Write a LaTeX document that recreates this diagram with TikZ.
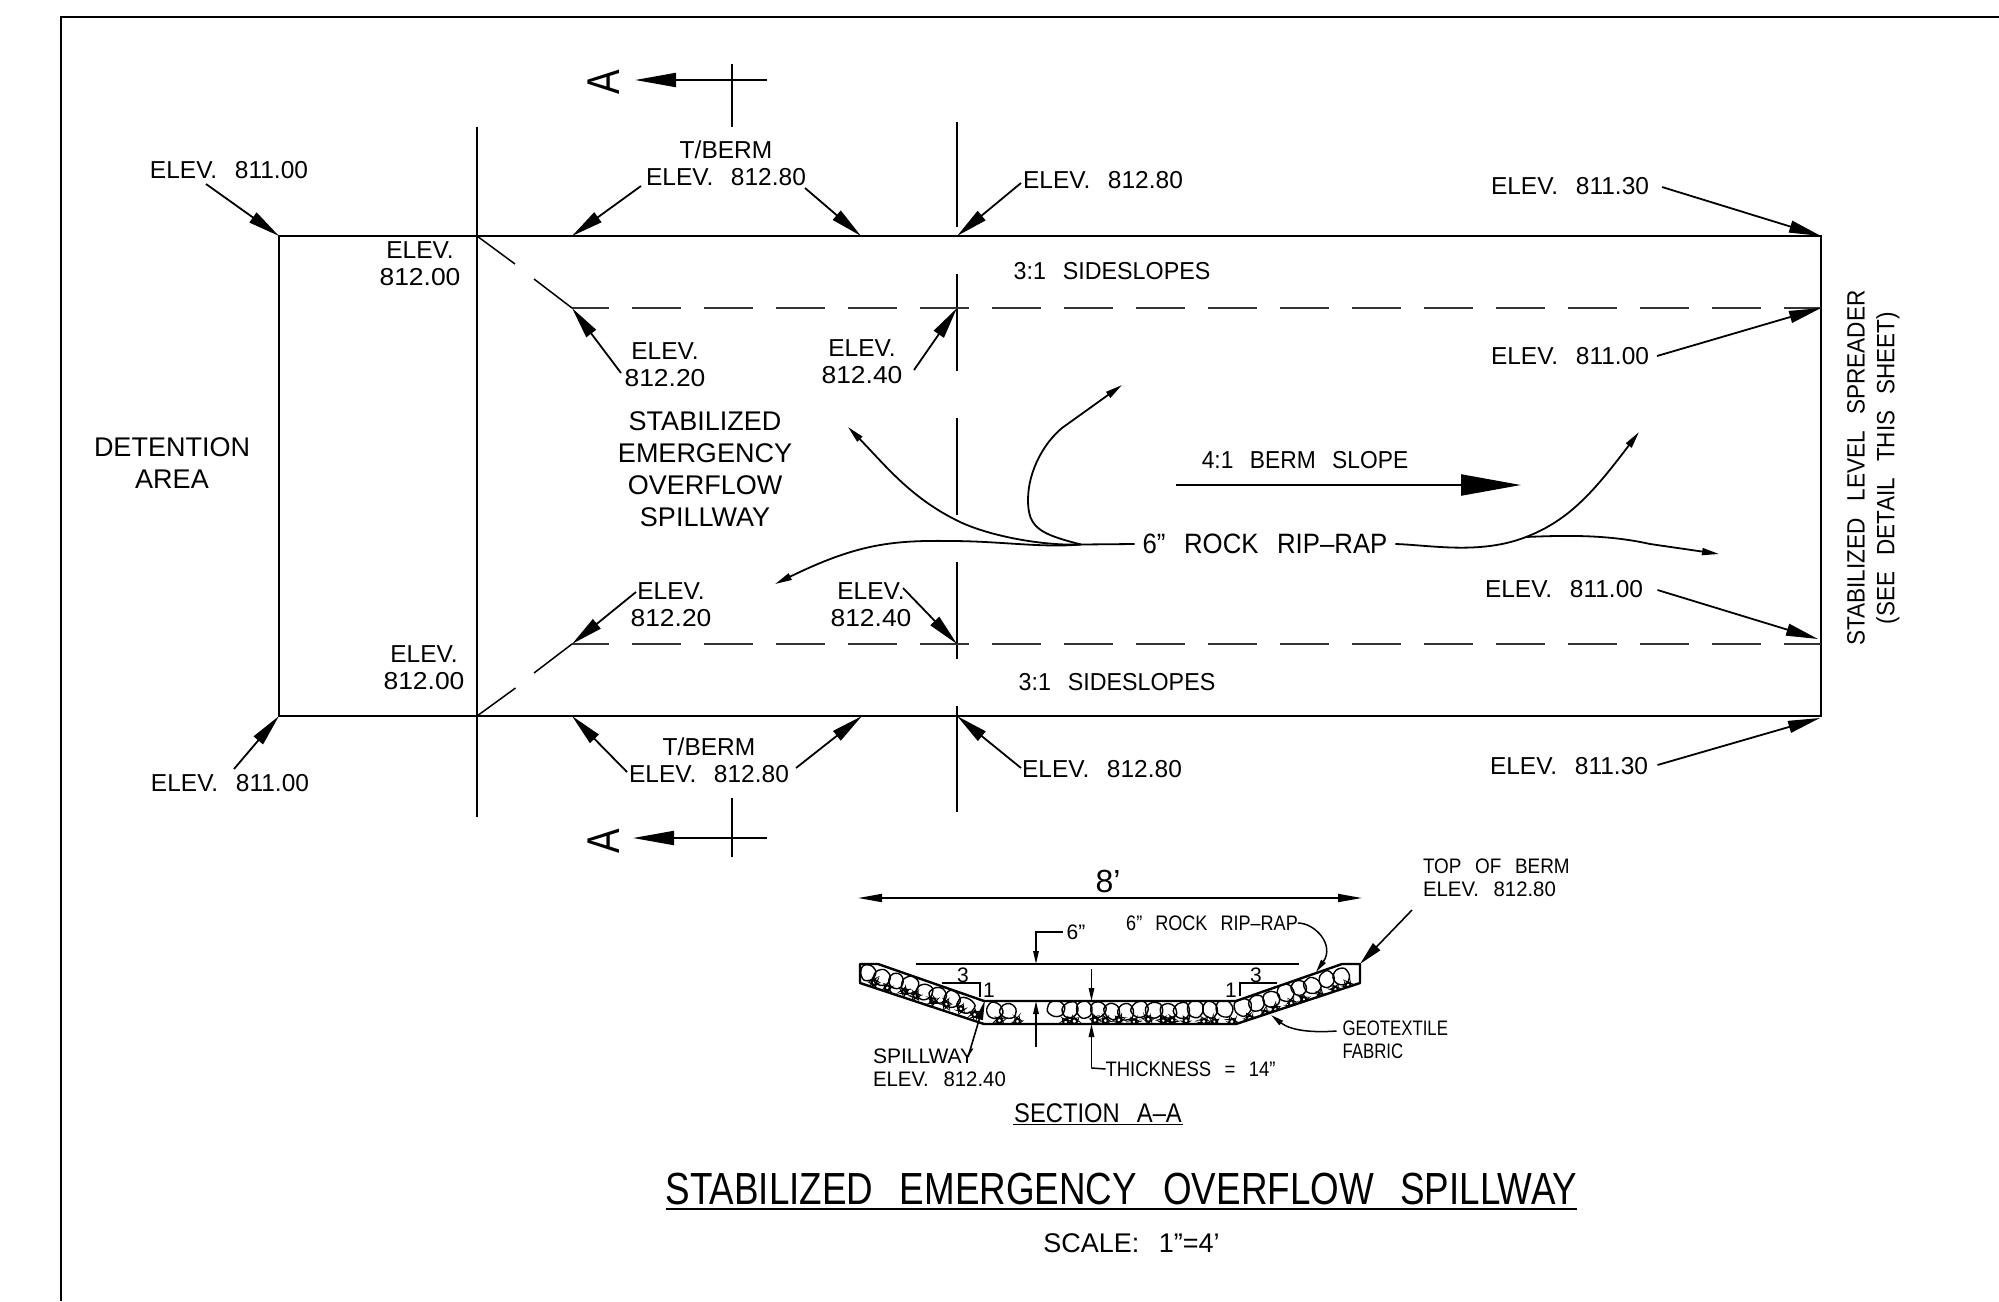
\documentclass[tikz,border=0pt]{standalone}
\usepackage{fontspec}
\usepackage{graphicx}
\setmainfont[WordSpace=2.6]{Liberation Sans}
\usetikzlibrary{arrows.meta}
\newcommand\fs[2]{\fontsize{#1}{#2}\selectfont}
\newcommand\nar[2]{\scalebox{#1}[1]{#2}}
\newcommand\dig[1]{\nar{1.08}{#1}}
\tikzset{
  lbl/.style={inner sep=0pt,outer sep=0pt,align=center,text=black},
  tA/.style={lbl,font=\fs{24.5}{27}},
  tB/.style={lbl,font=\fs{27}{32}},
  tC/.style={lbl,font=\fs{21}{23},align=left},
  wall/.style={line width=2.4pt,black},
  guide/.style={line width=2pt,black},
  slim/.style={line width=1.5pt,black},
  dashline/.style={line width=1.8pt,black!80,dash pattern=on 49pt off 23pt,dash phase=12pt},
  leader/.style={line width=1.8pt,black,-{Triangle[length=32pt,width=12pt]}},
  flow/.style={line width=1.8pt,black,-{Triangle[length=17pt,width=7pt]}},
  tiny/.style={line width=1.5pt,black,-{Triangle[length=13pt,width=5.5pt]}},
  rockline/.style={line width=1.4pt,black,rounded corners=3pt},
}
% leader with a named free end
\newcommand\ldr[3]{\coordinate (#1) at (#2); \draw[leader] (#1) -- (#3);}
\newcommand\rockat[3]{%
  \pgfmathsetmacro\ang{60*rnd}%
  \pgfmathsetmacro\ra{#3*(.85+.3*rnd)}\pgfmathsetmacro\rb{#3*(.85+.3*rnd)}%
  \pgfmathsetmacro\rc{#3*(.85+.3*rnd)}\pgfmathsetmacro\rd{#3*(.85+.3*rnd)}%
  \pgfmathsetmacro\re{#3*(.85+.3*rnd)}\pgfmathsetmacro\rf{#3*(.85+.3*rnd)}%
  \draw[rockline] ({#1+\ra*cos(\ang)},{#2+\ra*sin(\ang)})
    -- ({#1+\rb*cos(\ang+60)},{#2+\rb*sin(\ang+60)})
    -- ({#1+\rc*cos(\ang+120)},{#2+\rc*sin(\ang+120)})
    -- ({#1+\rd*cos(\ang+180)},{#2+\rd*sin(\ang+180)})
    -- ({#1+\re*cos(\ang+240)},{#2+\re*sin(\ang+240)})
    -- ({#1+\rf*cos(\ang+300)},{#2+\rf*sin(\ang+300)}) -- cycle;}
\newcommand\rockpair[2]{%
  \pgfmathsetmacro\jy{#2-3+3*rnd}%
  \rockat{#1}{\jy}{9.2}%
  \pgfmathsetmacro\jx{#1+4+7*rnd}\pgfmathsetmacro\ky{#2+7+3*rnd}%
  \rockat{\jx}{\ky}{3}}
\begin{document}
\begin{tikzpicture}[x=1pt,y=-1pt]
\useasboundingbox (0,0) rectangle (1999,1301);
\fill[white] (0,0) rectangle (1999,1301);

% sheet border
\coordinate (sheetA) at (61,1301);
\coordinate (sheetB) at (61,17);
\coordinate (sheetC) at (1999,17);
\draw[guide] (sheetA) -- (sheetB) -- (sheetC);

% plan corners
\coordinate (nw) at (279,236);
\coordinate (sw) at (279,716);
\coordinate (na) at (477,236);
\coordinate (sa) at (477,716);
\coordinate (ne) at (1821,236);
\coordinate (se) at (1821,716);
\coordinate (up) at (572,308);
\coordinate (lo) at (572,644);
\coordinate (upr) at (1821,308);
\coordinate (lor) at (1821,644);
\coordinate (nb) at (572,236);
\coordinate (sb) at (572,716);
\coordinate (nc) at (861,236);
\coordinate (sc) at (862,716);
\coordinate (nd) at (957,236);
\coordinate (sd) at (957,716);
\coordinate (ud) at (957,308);
\coordinate (ld) at (957,644);

\draw[wall] (nw) -- (ne) -- (se) -- (sw) -- cycle;
% vertical section lines
\coordinate (vaT) at (477,127); \coordinate (vaB) at (477,817);
\draw[guide] (vaT) -- (vaB);
\coordinate (v1) at (957,122); \coordinate (v2) at (957,227);
\coordinate (v3) at (957,274); \coordinate (v4) at (957,371);
\coordinate (v5) at (957,418); \coordinate (v6) at (957,515);
\coordinate (v7) at (957,562); \coordinate (v8) at (957,659);
\coordinate (v9) at (957,706); \coordinate (v10) at (957,812);
\draw[guide] (v1) -- (v2) (v3) -- (v4) (v5) -- (v6) (v7) -- (v8) (v9) -- (v10);
% slope breaks
\draw[dashline] (up) -- (upr);
\draw[dashline] (lo) -- (lor);
\coordinate (da) at (515,264); \coordinate (db) at (534,279);
\coordinate (dc) at (515.5,688); \coordinate (dd) at (534,673);
\draw[slim] (na) -- (da) (db) -- (up) (sa) -- (dc) (dd) -- (lo);

% section marks
\coordinate (ma) at (732,64); \coordinate (mb) at (732,127);
\coordinate (mc) at (767,80); \coordinate (md) at (635,80);
\draw[guide] (ma) -- (mb);
\draw[guide,-{Triangle[length=41pt,width=14pt]}] (mc) -- (md);
\coordinate (me) at (732,798); \coordinate (mf) at (732,857);
\coordinate (mg) at (767,838); \coordinate (mh) at (633,838);
\draw[guide] (me) -- (mf);
\draw[guide,-{Triangle[length=41pt,width=14pt]}] (mg) -- (mh);
\node[lbl,font=\fs{46}{46},rotate=90] (secT) at (604,82) {\nar{.8}{A}};
\node[lbl,font=\fs{46}{46},rotate=90] (secB) at (604,841) {\nar{.8}{A}};

% labels, top
\node[tA] (e1) at (229,170) {ELEV. 811.00};
\ldr{e1s}{206,184}{nw}
\node[tA] (e2) at (420,264) {ELEV.\\\dig{812.00}};
\node[tA] (e3) at (726,163) {T/BERM\\ELEV. 812.80};
\ldr{e3a}{641,186}{nb}
\ldr{e3b}{805,188}{nc}
\node[tA] (e4) at (1103,180) {ELEV. 812.80};
\ldr{e4s}{1021,183}{nd}
\node[tA] (e5) at (1570,186) {ELEV. 811.30};
\ldr{e5s}{1662,187}{ne}
\node[tA] (e6) at (665,365) {ELEV.\\\dig{812.20}};
\ldr{e6s}{621,373}{up}
\node[tA] (e7) at (862,362) {ELEV.\\\dig{812.40}};
\ldr{e7s}{914,370}{ud}
\node[tA] (e8) at (1570,356) {ELEV. 811.00};
\ldr{e8s}{1657,356}{upr}
\node[tA] (s1) at (1112,271) {\nar{.95}{3:1 SIDESLOPES}};

% labels, bottom
\node[tA] (e9) at (671,605) {ELEV.\\\dig{812.20}};
\ldr{e9s}{636,592}{lo}
\node[tA] (e10) at (871,605) {ELEV.\\\dig{812.40}};
\ldr{e10s}{903,588}{ld}
\node[tA] (e11) at (424,668) {ELEV.\\\dig{812.00}};
\node[tA] (e12) at (230,783) {ELEV. 811.00};
\ldr{e12s}{234,769}{sw}
\node[tA] (e13) at (709,760) {T/BERM\\ELEV. 812.80};
\ldr{e13a}{627,772}{sb}
\ldr{e13b}{796,768}{sc}
\node[tA] (e14) at (1102,769) {ELEV. 812.80};
\ldr{e14s}{1021,768}{sd}
\node[tA] (e15) at (1564,589) {ELEV. 811.00};
\coordinate (lort) at (1818,639);
\ldr{e15s}{1657.5,590}{lort}
\node[tA] (e16) at (1569,766) {ELEV. 811.30};
\coordinate (sert) at (1820,718);
\ldr{e16s}{1657.5,765}{sert}
\node[tA] (s2) at (1117,682) {\nar{.95}{3:1 SIDESLOPES}};

\node[tB] (det) at (172,463) {DETENTION\\AREA};
\node[tB] (spw) at (705,469) {STABILIZED\\EMERGENCY\\OVERFLOW\\SPILLWAY};
\node[lbl,font=\fs{25}{27},rotate=90] (lvl1) at (1856,468) {\nar{.905}{STABILIZED LEVEL SPREADER}};
\node[lbl,font=\fs{25}{27},rotate=90] (lvl2) at (1888,468) {\nar{.90}{(SEE DETAIL THIS SHEET)}};

% berm slope
\node[tA] (berm) at (1305,460) {\nar{.93}{4:1 BERM SLOPE}};
\coordinate (bs) at (1176,485); \coordinate (be) at (1521,485);
\draw[line width=2.2pt,-{Triangle[length=60pt,width=21pt]}] (bs) -- (be);

% rip-rap callout
\node[lbl,font=\fs{28}{32}] (rock) at (1265,544) {\nar{.92}{6” ROCK RIP–RAP}};
\coordinate (fj) at (1081,544.5);
\coordinate (fa) at (775,584);
\coordinate (fb) at (848,427);
\coordinate (fc) at (1122,385);
\coordinate (fd) at (1526,537);
\coordinate (fe) at (1639,432);
\coordinate (ff) at (1719,554);
\draw[flow] ([xshift=-8pt]rock.west) -- (fj) .. controls (1040,548) and (1000,541) .. (950,541)
  .. controls (890,540) and (855,545) .. (fa);
\draw[flow] (fj) .. controls (1040,546) and (985,535) .. (956,520)
  .. controls (910,497) and (885,465) .. (fb);
\draw[flow] (fj) .. controls (1040,534) and (1028,528) .. (1028,500)
  .. controls (1028,470) and (1045,442) .. (1062,428) -- (fc);
\draw[flow] ([xshift=8pt]rock.east) .. controls (1430,545) and (1480,555) .. (fd)
  .. controls (1570,520) and (1595,490) .. (fe);
\draw[flow] (fd) .. controls (1570,535) and (1610,535) .. (1650,544) -- (ff);

% ---- section A-A ----
\coordinate (dimL) at (858,898); \coordinate (dimR) at (1362,898);
\draw[line width=1.8pt,{Triangle[length=24pt,width=8pt]}-{Triangle[length=24pt,width=8pt]}] (dimL) -- (dimR);
\node[lbl,font=\fs{32}{34}] (eight) at (1108,881) {8’};

\coordinate (c1) at (860,964); \coordinate (c2) at (878,964);
\coordinate (c3) at (984,1001); \coordinate (c4) at (1236,1001);
\coordinate (c5) at (1342,964); \coordinate (c6) at (1360,964);
\coordinate (c7) at (1360,983); \coordinate (c8) at (1236,1024);
\coordinate (c9) at (984,1024); \coordinate (c10) at (860,983);

\begin{scope}
\clip (c1) -- (c2) -- (c3) -- (c4) -- (c5) -- (c6) -- (c7) -- (c8) -- (c9) -- (c10) -- cycle;
\pgfmathsetseed{11}
\foreach \x in {868,882,...,978} {
  \pgfmathsetmacro\yy{973.5+(\x-868)*0.335}
  \rockpair{\x}{\yy}
}
\foreach \x in {994,1008,1056,1070,...,1230} {
  \rockpair{\x}{1012}
}
\foreach \x in {1243,1257,...,1354} {
  \pgfmathsetmacro\yy{1012-(\x-1236)*0.335}
  \rockpair{\x}{\yy}
}
\end{scope}
\draw[wall,line join=round] (c1) -- (c2) -- (c3) -- (c4) -- (c5) -- (c6) -- (c7) -- (c8) -- (c9) -- (c10) -- cycle;

% top-of-rock reference line
\coordinate (tl) at (916,964); \coordinate (tr) at (1299,964);
\draw[guide] (tl) -- (tr);
\node[tC] (six) at (1076,932) {6”};
\coordinate (sixa) at (1036,964); \coordinate (sixb) at (1036,1001); \coordinate (sixc) at (1036,1047);
\draw[tiny] ([xshift=-4pt]six.west) -- (sixa |- six.west) -- (sixa);
\draw[tiny] (sixc) -- (sixb);
% slopes
\coordinate (hLa) at (942,983); \coordinate (hLb) at (980,983); \coordinate (hLc) at (980,997);
\draw[slim] (hLa) -- (hLb) -- (hLc);
\coordinate (hRa) at (1277,983); \coordinate (hRb) at (1240,983); \coordinate (hRc) at (1240,996);
\draw[slim] (hRa) -- (hRb) -- (hRc);
\node[tC] (r3l) at (963,975) {3};
\node[tC] (r1l) at (989,990) {1};
\node[tC] (r3r) at (1256,975) {3};
\node[tC] (r1r) at (1231,990) {1};

\node[tC,anchor=west] (top) at (1423,878) {\nar{.9}{TOP OF BERM}\\\nar{.97}{ELEV. 812.80}};
\coordinate (topa) at (1412,910);
\draw[line width=1.6pt,-{Triangle[length=24pt,width=10pt]}] (topa) -- (c6);

\node[tC] (rr) at (1212,923) {\nar{.86}{6” ROCK RIP–RAP}};
\coordinate (rrt) at (1316,972);
\draw[tiny] (rr.east) .. controls (1315,923) and (1335,945) .. (rrt);

\coordinate (ta) at (1091.5,969); \coordinate (tb) at (1091.5,1001);
\draw[tiny] (ta) -- (tb);
\node[tC] (thk) at (1190.5,1069) {\nar{.88}{THICKNESS = 14”}};
\coordinate (tc) at (1091.5,1024); \coordinate (td) at (1091.5,1068);
\draw[slim] (thk.west) -- (td);
\draw[tiny] (td) -- (tc);

\node[tC,anchor=west] (spl) at (873,1067.5) {SPILLWAY\\\nar{.97}{ELEV. 812.40}};
\coordinate (spa) at (968,1057); \coordinate (spb) at (985,1000);
\draw[line width=1.6pt,-{Triangle[length=20pt,width=7pt]}] (spa) -- (spb);

\node[tC,anchor=west] (geo) at (1342.5,1040) {\nar{.8}{GEOTEXTILE}\\\nar{.8}{FABRIC}};
\coordinate (geot) at (1271,1015);
\draw[tiny] ([xshift=-6pt]geo.west |- 1336,1031) .. controls (1310,1033) and (1290,1030) .. (geot);

\node[lbl,font=\fs{27}{30}] (sec) at (1098,1113) {\nar{.88}{SECTION A–A}};
\draw[line width=1.8pt] ([xshift=-1pt,yshift=-2pt]sec.south west) -- ([xshift=1pt,yshift=-2pt]sec.south east);

\node[lbl,font=\fs{45}{50}] (title) at (1121.5,1189) {\nar{.817}{STABILIZED EMERGENCY OVERFLOW SPILLWAY}};
\draw[line width=2.6pt] ([yshift=-4pt]title.south west) -- ([yshift=-4pt]title.south east);
\node[lbl,font=\fs{27}{30}] (scale) at (1131.5,1243) {SCALE: 1”=4’};
\end{tikzpicture}
\end{document}
